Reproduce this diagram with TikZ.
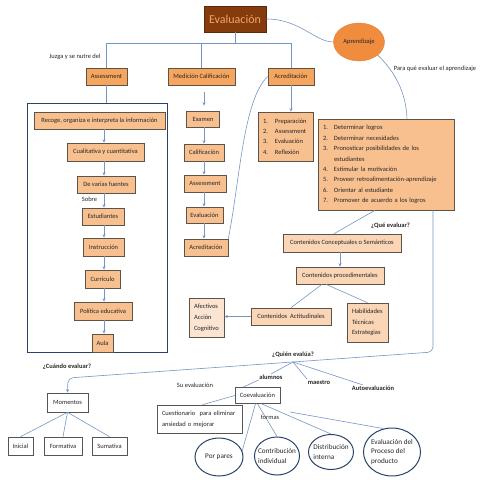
\documentclass[tikz,border=0pt]{standalone}
\usepackage{fontspec}
\setmainfont{Carlito}
\usetikzlibrary{arrows.meta,calc,shapes.geometric}
\definecolor{evbrown}{HTML}{843C0C}
\definecolor{evtext}{HTML}{F4A468}
\definecolor{topor}{HTML}{F5A55E}
\definecolor{chainor}{HTML}{F9C08F}
\definecolor{lightor}{HTML}{FAD6B6}
\definecolor{paleor}{HTML}{FCE4D3}
\definecolor{aprfill}{HTML}{F08C3E}
\definecolor{bord}{HTML}{5E5348}
\definecolor{navy}{HTML}{2A4468}
\definecolor{conn}{HTML}{7595C4}
\definecolor{wbord}{HTML}{555555}
\begin{document}
\begin{tikzpicture}[x=1pt,y=-1pt,
  every node/.style={font=\fontsize{6.5}{8}\selectfont, text=black!85},
  obox/.style={draw=bord, line width=0.6pt, inner sep=0pt, minimum height=17pt},
  topbox/.style={obox, fill=topor},
  chainbox/.style={obox, fill=chainor},
  lightbox/.style={obox, fill=lightor},
  palebox/.style={obox, fill=paleor},
  wbox/.style={draw=wbord, line width=0.6pt, fill=white, inner sep=0pt},
  ell/.style={ellipse, draw=navy, line width=1pt, inner sep=0pt},
  elltext/.style={align=left, font=\fontsize{7.2}{9.6}\selectfont},
  lbl/.style={inner sep=0.5pt},
  blbl/.style={inner sep=0.5pt, font=\fontsize{6.5}{8}\selectfont\bfseries},
  con/.style={draw=conn, line width=0.6pt},
  arr/.style={con, -{Stealth[length=3.5pt,width=3pt]}},
  listfont/.style={font=\fontsize{6.5}{10.4}\selectfont}
]
\useasboundingbox (0,0) rectangle (480,480);

% top
\node[draw=evbrown!70!black, fill=evbrown, line width=0.6pt, minimum width=62pt, minimum height=26pt, inner sep=0pt, text=evtext, font=\fontsize{12}{14}\selectfont] (ev) at (235,19) {Evaluación};
\node[ellipse, fill=aprfill, draw=aprfill!92!black, line width=0.4pt, minimum width=51pt, minimum height=38pt, inner sep=0pt] (apr) at (359,42) {Aprendizaje};

\node[topbox, minimum width=41pt] (ass) at (106.5,76.5) {Assessment};
\node[topbox, minimum width=67pt] (med) at (201.5,76.5) {Medición Calificación};
\node[topbox, minimum width=46pt] (acr) at (291,76.5) {Acreditación};

\node[lbl] (juz) at (75,57) {Juzga y se nutre del};
\node[lbl] (para) at (435,69) {Para qué evaluar el aprendizaje};

\coordinate (hb) at (0,43);
\draw[con] (ev.south) -- (ev.south |- hb);
\draw[con] (ass.north) -- (ass.north |- hb) -- (acr.north |- hb) -- (acr.north);
\draw[con] (med.north) -- (med.north |- hb);
\draw[con] (ev.east) .. controls (300,19) and (315,42) .. (apr.west);

% left frame
\node[draw=navy, line width=0.9pt, minimum width=140pt, minimum height=249pt, inner sep=0pt] (fr) at (97,227.5) {};
\draw[con] (ass.south) -- (ass.south |- fr.north);

\node[chainbox, minimum width=131pt] (rec) at (99.5,120.5) {Recoge, organiza e interpreta la información};
\node[chainbox, minimum width=77pt, minimum height=18pt] (cual) at (105.5,152) {Cualitativa y cuantitativa};
\node[chainbox, minimum width=58pt] (dev) at (106,184.5) {De varias fuentes};
\node[chainbox, minimum width=42pt] (est) at (103,216.5) {Estudiantes};
\node[chainbox, minimum width=41pt, minimum height=18pt] (ins) at (103.5,247) {Instrucción};
\node[chainbox, minimum width=35pt, minimum height=18pt] (cur) at (102.5,279) {Currículo};
\node[chainbox, minimum width=58pt, minimum height=18pt] (pol) at (103,311) {Política educativa};
\node[chainbox, minimum width=21pt, minimum height=18pt] (aula) at (102.5,343) {Aula};
\node[lbl] (sob) at (89.5,199) {Sobre};

\coordinate (ax) at (104,0);
\foreach \a/\b in {rec/cual, cual/dev, dev/est, est/ins, ins/cur, cur/pol, pol/aula}
  \draw[arr] (\a.south -| ax) -- (\b.north -| ax);

% medicion chain
\node[chainbox, minimum width=33pt, minimum height=16pt] (exa) at (203,119) {Examen};
\node[chainbox, minimum width=40pt] (cal) at (204,152.5) {Calificación};
\node[chainbox, minimum width=42pt] (as2) at (205,183.5) {Assessment};
\node[chainbox, minimum width=37pt, minimum height=16pt] (ev2) at (204.5,215) {Evaluación};
\node[chainbox, minimum width=44pt] (acr2) at (206,247.5) {Acreditación};

\coordinate (mx) at (204,0);
\draw[arr, shorten <=7pt, shorten >=5pt] (med.south -| mx) -- (exa.north -| mx);
\foreach \a/\b in {exa/cal, cal/as2, as2/ev2, ev2/acr2}
  \draw[arr] (\a.south -| mx) -- (\b.north -| mx);
\draw[con] (acr2.north east) .. controls (240,180) and (243,100) .. (acr.west);

% acreditacion list
\node[chainbox, listfont, minimum width=55pt, minimum height=49pt, text width=45pt, inner xsep=5pt, align=left] (acl) at (285.5,136.5)
 {\makebox[12pt][l]{1.}Preparación\\\makebox[12pt][l]{2.}Assessment\\\makebox[12pt][l]{3.}Evaluación\\\makebox[12pt][l]{4.}Reflexión};
\draw[arr] (acr.south) -- (acr.south |- acl.north);

% big list
\node[chainbox, listfont, minimum width=136pt, minimum height=91pt, text width=126pt, inner xsep=5pt, align=left] (big) at (386,164.5)
 {\makebox[11pt][l]{1.}Determinar logros\\
  \makebox[11pt][l]{2.}Determinar necesidades\\
  \makebox[11pt][l]{3.}Pronosticar posibilidades de los\\
  \hspace*{11pt}estudiantes\\
  \makebox[11pt][l]{4.}Estimular la motivación\\
  \makebox[11pt][l]{5.}Proveer retroalimentación-aprendizaje\\
  \makebox[11pt][l]{6.}Orientar al estudiante\\
  \makebox[11pt][l]{7.}Promover de acuerdo a los logros};
\draw[con] (apr.-35) .. controls (395,72) and (406,92) .. ($(big.north)+(21,0)$);

% contenidos
\node[blbl] (que) at (390.5,226) {¿Qué evaluar?};
\node[lightbox, minimum width=118pt, minimum height=18pt] (cc) at (342,243) {Contenidos Conceptuales o Semánticos};
\node[lightbox, minimum width=88pt] (cp) at (340,275.5) {Contenidos procedimentales};
\node[lightbox, minimum width=80pt] (ca) at (291,316.5) {Contenidos\ \ Actitudinales};
\node[lightbox, minimum width=41pt, minimum height=39pt, text width=31pt, inner xsep=5pt, align=left, font=\fontsize{6.5}{10.5}\selectfont] (hab) at (367.5,322.5) {Habilidades\\Técnicas\\Estrategias};
\node[palebox, minimum width=35pt, minimum height=39pt, text width=25pt, inner xsep=5pt, align=left, font=\fontsize{6.5}{11}\selectfont] (afe) at (206.5,317.5) {Afectivos\\Acción\\Cognitivo};

\draw[con] ($(big.south)+(-11,0)$) -- ($(cc.north)+(-8,0)$);
\draw[arr] (cp.north |- cc.south) -- (cp.north);
\draw[con] ($(cp.south)+(-18,0)$) -- (ca.north);
\draw[con] ($(cp.south)+(-14,0)$) -- (hab.north);
\draw[arr] (ca.west) -- (ca.west -| afe.east);

% quien evalua
\coordinate (c1) at (433,352);
\coordinate (c2) at (68,378);
\coordinate (fan) at ($(c1)!{140/365}!(c2)$);
\node[blbl] (quien) at (293,355) {¿Quién evalúa?};
\node[blbl] (cuando) at (67,367) {¿Cuándo evaluar?};
\node[lbl] (sue) at (195,385) {Su evaluación};
\node[blbl] (alu) at (271,377) {alumnos};
\node[blbl] (mae) at (319,382) {maestro};
\node[blbl] (aut) at (373,388) {Autoevaluación};

\node[wbox, minimum width=41pt, minimum height=19pt] (mom) at (67.5,402.5) {Momentos};
\node[wbox, minimum width=25pt, minimum height=18pt] (ini) at (20.5,446) {Inicial};
\node[wbox, minimum width=38pt, minimum height=18pt] (fmt) at (63,446) {Formativa};
\node[wbox, minimum width=35pt, minimum height=18pt] (sum) at (109.5,446) {Sumativa};

\draw[arr, rounded corners=5pt] (big.south -| c1) -- (c1) -- (c2) -- (mom.north);
\draw[con] (fan) -- (alu.north);
\draw[con] (fan) -- (mae.north west);
\draw[con] (fan) -- ($(aut.north)+(-10,0)$);
\draw[con] (mom.south) -- (ini.north);
\draw[con] (mom.south) -- (fmt.north);
\draw[con] (mom.south) -- (sum.north);

\node[wbox, minimum width=45pt, minimum height=16pt] (coe) at (257.5,395.5) {Coevaluación};
\node[wbox, minimum width=85pt, minimum height=28pt, text width=75pt, inner xsep=5pt, align=left, font=\fontsize{6.5}{11}\selectfont] (cue) at (199.5,419) {Cuestionario\ \ para eliminar\\ansiedad o mejorar};
\draw[con] (alu.south west) -- ($(coe.north west)!0.18!(coe.north east)$);
\draw[con] (coe.west) -- ($(cue.north)+(3,0)$);

\node[ell, minimum width=48pt, minimum height=38pt, label={[elltext]center:Por pares}] (pp) at (219,457) {};
\node[ell, minimum width=45pt, minimum height=38pt, label={[elltext]center:Contribución\\individual}] (ci) at (277,456) {};
\node[ell, minimum width=45pt, minimum height=35pt, label={[elltext]center:Distribución\\interna}] (di) at (331,452) {};
\node[ell, minimum width=57pt, minimum height=48pt, label={[elltext]center:Evaluación del\\Proceso del\\producto}] (ep) at (392,452) {};

\coordinate (fs) at (290,412);
\draw[con] ($(coe.south)+(-2,0)$) -- (pp.15);
\draw[con] (coe.south) -- (ci.north);
\draw[con] ($(coe.south)+(4,0)$) -- (di.north);
\draw[con] (fs) -- (ep.110);
\node[lbl] (fo) at (270,417) {formas};
\end{tikzpicture}
\end{document}
